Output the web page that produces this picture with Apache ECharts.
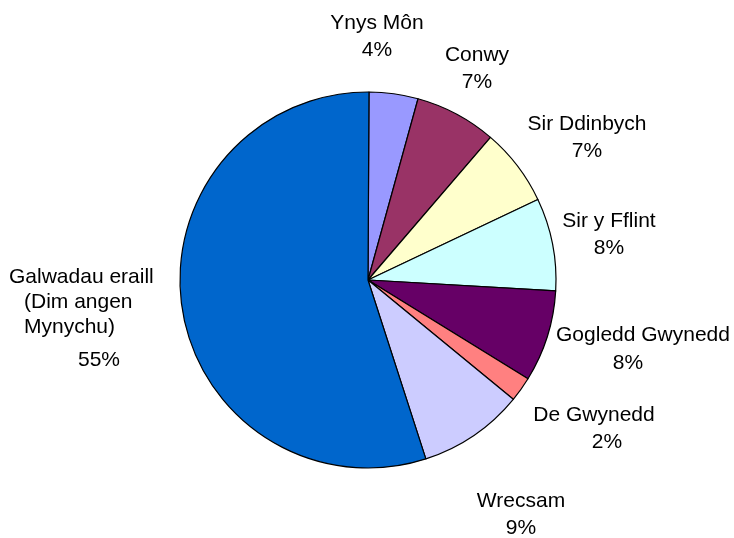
<!DOCTYPE html>
<html>
<head>
<meta charset="utf-8">
<script src="https://cdn.jsdelivr.net/npm/echarts@6/dist/echarts.min.js"></script>
<style>
  html, body { margin: 0; padding: 0; background: #fff; }
  #chart { width: 734px; height: 538px; }
</style>
</head>
<body>
<div id="chart"></div>
<script>
const categories = ['Ynys Môn', 'Conwy', 'Sir Ddinbych', 'Sir y Fflint', 'Gogledd Gwynedd', 'De Gwynedd', 'Wrecsam', 'Galwadau eraill\n(Dim angen\nMynychu)']
const values = [4.2, 7.0, 6.65, 7.96, 7.87, 2.14, 9.07, 55.0]
const colors = ['#9999FF', '#993366', '#FFFFCC', '#CCFFFF', '#660066', '#FF8080', '#CCCCFF', '#0066CC']

// label anchor points (x, y of block centre), Excel style placement
const labelPos = [
  [377, 37], [477, 69], [587, 138], [609, 235],
  [643, 350], [594, 429], [521, 515], [9, 323]
]

const myChart = echarts.init(document.getElementById('chart'))
const option = {
  backgroundColor: '#fff',
  textStyle: { fontFamily: 'Liberation Sans, Arial, sans-serif' },
  series: [{
    type: 'pie',
    center: [368, 280],
    radius: 188,
    startAngle: 89.7,
    clockwise: true,
    percentPrecision: 0,
    animation: false,
    silent: true,
    avoidLabelOverlap: false,
    itemStyle: { borderColor: '#000', borderWidth: 1.2 },
    labelLine: { show: false },
    label: {
      show: true,
      position: 'outside',
      alignTo: 'none',
      overflow: 'none',
      width: 300,
      color: '#000',
      fontSize: 21,
      lineHeight: 27,
      align: 'center',
      formatter: function (p) {
        if (p.dataIndex === 7) {
          const lines = p.name.split('\n')
          return `{a|${lines[0]}}\n{b|${lines[1]}}\n{b|${lines[2]}}\n{c|${p.percent}%}`
        }
        if (p.dataIndex === 4) {
          return `${p.name}\n{sl|${p.percent}%}`
        }
        if (p.dataIndex === 5) {
          return `${p.name}\n{sr|${p.percent}%}`
        }
        return `${p.name}\n${p.percent}%`
      },
      rich: {
        a: { fontSize: 21, lineHeight: 25, color: '#000' },
        b: { fontSize: 21, lineHeight: 25, color: '#000', padding: [0, 0, 0, 15] },
        c: { fontSize: 21, lineHeight: 42, color: '#000', padding: [0, 0, 0, 69] },
        sl: { fontSize: 21, lineHeight: 30, color: '#000', padding: [0, 30, 0, 0] },
        sr: { fontSize: 21, lineHeight: 27, color: '#000', padding: [0, 0, 0, 26] }
      }
    },
    labelLayout: function (params) {
      const pos = labelPos[params.dataIndex]
      return {
        x: pos[0],
        y: pos[1],
        align: params.dataIndex === 7 ? 'left' : 'center',
        verticalAlign: 'middle'
      }
    },
    data: categories.map((name, i) => ({
      name: name,
      value: values[i],
      itemStyle: { color: colors[i] }
    }))
  }]
}
myChart.setOption(option)
</script>
</body>
</html>
